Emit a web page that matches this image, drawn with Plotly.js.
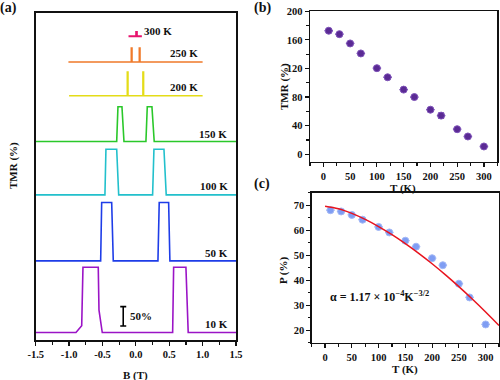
<!DOCTYPE html>
<html>
<head>
<meta charset="utf-8">
<script src="https://cdn.plot.ly/plotly-3.0.1.min.js"></script>
<style>html,body{margin:0;padding:0;background:#fff;}#chart{width:500px;height:380px;}</style>
</head>
<body>
<div id="chart"></div>
<script>
// ---------- Panel (a): TMR loops vs B (values in %, relative to each baseline) ----------
const loopTemps = ['10 K', '50 K', '100 K', '150 K', '200 K', '250 K', '300 K'];
const loopOffsets = [19.4, 204.7, 375.6, 513.7, 632.1, 719.4, 785.8];
const loopColors = ['#9b14c6', '#1e3de8', '#22c0cc', '#2ac82a', '#e4dc18', '#f07a2a', '#e8146e'];

const b10 = [-1.5, -0.897, -0.811, -0.792, -0.563, -0.552, -0.503, 0.551, 0.566, 0.750, 0.784, 1.5];
const t10 = [0, 0, 17.6, 169, 169, 58, 0, 0, 169, 169, 0, 0];
const b50 = [-1.5, -0.527, -0.512, -0.362, -0.338, 0.331, 0.350, 0.491, 0.510, 1.5];
const t50 = [0, 0, 151, 151, 0, 0, 151, 151, 0, 0];
const b100 = [-1.5, -0.463, -0.448, -0.287, -0.257, 0.251, 0.271, 0.421, 0.455, 1.5];
const t100 = [0, 0, 118, 118, 0, 0, 118, 118, 0, 0];
const b150 = [-1.5, -0.287, -0.268, -0.208, -0.178, 0.151, 0.171, 0.241, 0.275, 1.5];
const t150 = [0, 0, 90, 90, 0, 0, 90, 90, 0, 0];
const b200 = [-1.0, -0.128, -0.128, -0.118, -0.118, 0.106, 0.106, 0.116, 0.116, 1.0];
const t200 = [0, 0, 61, 61, 0, 0, 61, 61, 0, 0];
const b250 = [-1.01, -0.068, -0.068, -0.058, -0.058, 0.052, 0.052, 0.062, 0.062, 1.0];
const t250 = [0, 0, 36, 36, 0, 0, 36, 36, 0, 0];
const b300 = [-0.11, 0.005, 0.005, 0.015, 0.015, 0.09];
const t300 = [0, 0, 11, 11, 0, 0];

const loopB = [b10, b50, b100, b150, b200, b250, b300];
const loopT = [t10, t50, t100, t150, t200, t250, t300];

const aTickVals = [-1.5, -1.0, -0.5, 0.0, 0.5, 1.0, 1.5];
const aTickText = ['-1.5', '-1.0', '-0.5', '0.0', '0.5', '1.0', '1.5'];
const scaleBarPct = 50;

// ---------- Panel (b): TMR vs T ----------
const tempsB = [10, 30, 50, 70, 100, 120, 150, 170, 200, 220, 250, 270, 300];
const tmrB = [172.8, 168, 155, 141, 120.4, 107.7, 90.4, 80, 62.3, 54, 35, 24.8, 10.8];
const tmrErrT = [8, 8, 8, 8, 8, 8, 8, 8, 8, 8, 8, 8, 8];
const tmrErrY = [0, 0, 0, 0, 0, 0, 0, 0, 0, 4, 0, 0, 0];

// ---------- Panel (c): P vs T with fit ----------
const tempsC = [10, 30, 50, 70, 100, 120, 150, 170, 200, 220, 250, 270, 300];
const polC = [68.0, 67.5, 66.1, 64.2, 61.3, 59.1, 55.8, 53.4, 48.8, 46.0, 38.6, 33.1, 22.3];
const polErrT = [8, 8, 8, 8, 8, 8, 8, 8, 8, 8, 8, 8, 8];
const fitT = [0, 25, 50, 75, 100, 125, 150, 175, 200, 225, 250, 275, 300, 325];
const fitP = [69.6, 68.58, 66.72, 64.31, 61.46, 58.22, 54.64, 50.75, 46.57, 42.12, 37.41, 32.46, 27.28, 21.89];

const serif = 'Liberation Serif, Times New Roman, serif';
const traces = [];
loopB.forEach((bs, i) => {
  traces.push({
    x: bs, y: loopT[i].map(v => v + loopOffsets[i]),
    type: 'scatter', mode: 'lines', xaxis: 'x', yaxis: 'y',
    line: {color: loopColors[i], width: i === 6 ? 2 : 1.6},
    hoverinfo: 'skip', showlegend: false
  });
});
// scale bar
traces.push({
  x: [-0.189], y: [36.3 + scaleBarPct / 2], type: 'scatter', mode: 'markers',
  xaxis: 'x', yaxis: 'y', marker: {size: 0.1, color: '#000'},
  error_y: {type: 'constant', value: scaleBarPct / 2, width: 3, thickness: 1.6, color: '#000'},
  showlegend: false, hoverinfo: 'skip'
});
// panel b
traces.push({
  x: tempsB, y: tmrB, type: 'scatter', mode: 'markers', xaxis: 'x2', yaxis: 'y2',
  marker: {size: 7, color: '#5a2a94', line: {width: 1, color: '#7e52b8'}},
  error_x: {type: 'data', array: tmrErrT, width: 0, thickness: 1.3, color: '#8662bf'},
  error_y: {type: 'data', array: tmrErrY, width: 3, thickness: 1.2, color: '#8662bf'},
  showlegend: false
});
// panel c
traces.push({
  x: tempsC, y: polC, type: 'scatter', mode: 'markers', xaxis: 'x3', yaxis: 'y3',
  marker: {size: 7, color: '#7f9df3', line: {width: 1, color: '#a3b8f6'}},
  error_x: {type: 'data', array: polErrT, width: 0, thickness: 1.3, color: '#a9bcf5'},
  showlegend: false
});
traces.push({
  x: fitT, y: fitP, type: 'scatter', mode: 'lines', xaxis: 'x3', yaxis: 'y3',
  line: {color: '#e8141e', width: 1.5, shape: 'spline'}, showlegend: false
});

const tickFont = {family: serif, size: 10.5, color: '#111', weight: 'bold'};
const axBase = {
  showgrid: false, zeroline: false, showline: true, linecolor: '#111', linewidth: 1.3,
  mirror: true, ticks: 'outside', ticklen: 4, tickwidth: 1.2, tickcolor: '#111',
  tickfont: tickFont
};
const W = 500, H = 380;
const ann = [];
function A(text, px, py, opts) {
  ann.push(Object.assign({text: text, x: px / W, y: 1 - py / H, xref: 'paper', yref: 'paper',
    showarrow: false, font: {family: serif, size: 11, color: '#111', weight: 'bold'},
    xanchor: 'center', yanchor: 'middle'}, opts || {}));
}
// temperature labels
A('10 K', 230, 324, {xanchor: 'right'});
A('50 K', 230, 252.7, {xanchor: 'right'});
A('100 K', 230, 185.7, {xanchor: 'right'});
A('150 K', 229, 134, {xanchor: 'right'});
A('200 K', 200, 87.3, {xanchor: 'right'});
A('250 K', 200, 53.3, {xanchor: 'right'});
A('300 K', 141.5, 31, {xanchor: 'left'});
A(scaleBarPct + '%', 128, 316, {xanchor: 'left'});
// axis titles
A('TMR (%)', 13, 166, {textangle: -90});
A('B (T)', 135, 375);
A('TMR (%)', 285, 87, {textangle: -90});
A('T (K)', 403, 188);
A('P (%)', 283, 270, {textangle: -90});
A('T (K)', 405, 369);
// panel labels
A('(a)', 8.5, 8, {font: {family: serif, size: 14, color: '#111', weight: 'bold'}});
A('(b)', 262, 8, {font: {family: serif, size: 14, color: '#111', weight: 'bold'}});
A('(c)', 262, 184, {font: {family: serif, size: 14, color: '#111', weight: 'bold'}});
// alpha
A('α = 1.17 × 10<sup>−4</sup>K<sup>−3/2</sup>', 328, 296, {xanchor: 'left', font: {family: serif, size: 12, color: '#111', weight: 'bold'}});

const layout = {
  width: W, height: H, margin: {l: 0, r: 0, t: 0, b: 0},
  paper_bgcolor: '#fff', plot_bgcolor: '#fff', showlegend: false,
  xaxis: Object.assign({}, axBase, {domain: [35.7 / W, 236 / W], range: [-1.5, 1.5],
    tickvals: aTickVals, ticktext: aTickText, linewidth: 1.6,
    minor: {dtick: 0.25, ticks: 'outside', ticklen: 3, tickcolor: '#111', tickwidth: 1.2}, anchor: 'y'}),
  yaxis: Object.assign({}, axBase, {domain: [1 - 340 / H, 1 - 12.7 / H], range: [0, 847],
    showticklabels: false, ticks: '', linewidth: 1.6, anchor: 'x'}),
  xaxis2: Object.assign({}, axBase, {domain: [310 / W, 497.3 / W], range: [-25, 325], dtick: 50,
    minor: {dtick: 25, ticks: 'outside', ticklen: 2.5, tickcolor: '#111'}, anchor: 'y2'}),
  yaxis2: Object.assign({}, axBase, {domain: [1 - 161.7 / H, 1 - 11.3 / H], range: [-10.5, 200], dtick: 40,
    minor: {dtick: 20, ticks: 'outside', ticklen: 2.5, tickcolor: '#111'}, anchor: 'x2'}),
  xaxis3: Object.assign({}, axBase, {domain: [311.7 / W, 499 / W], range: [-25, 325], dtick: 50,
    minor: {dtick: 25, ticks: 'outside', ticklen: 2.5, tickcolor: '#111'}, anchor: 'y3'}),
  yaxis3: Object.assign({}, axBase, {domain: [1 - 342.7 / H, 1 - 192.7 / H], range: [15, 75], dtick: 10,
    minor: {dtick: 5, ticks: 'outside', ticklen: 2.5, tickcolor: '#111'}, anchor: 'x3'}),
  annotations: ann
};
Plotly.newPlot('chart', traces, layout, {staticPlot: true, displayModeBar: false});
</script>
</body>
</html>
